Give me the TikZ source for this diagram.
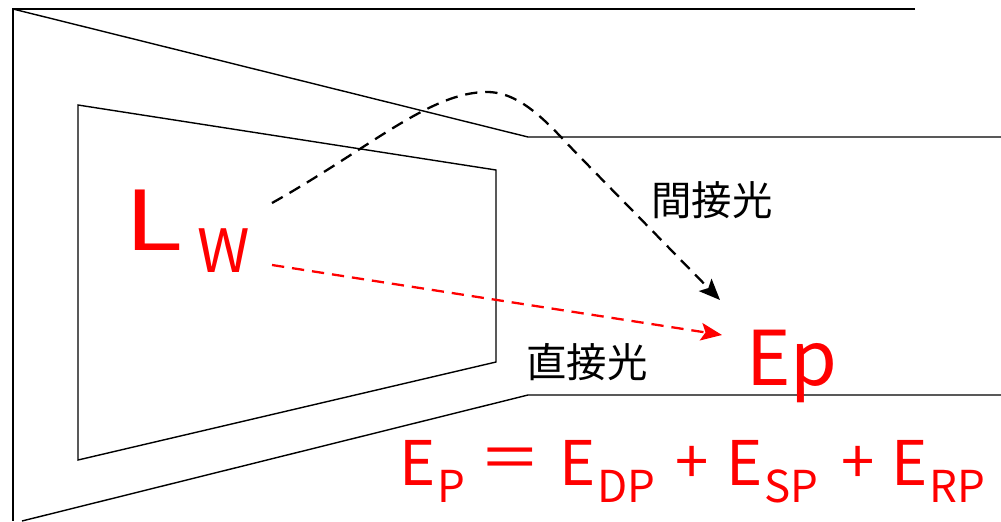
\documentclass[tikz,border=0pt]{standalone}
\usepackage{fontspec}
\setmainfont{Noto Sans CJK JP}
\usetikzlibrary{arrows.meta}

\newcommand{\fsize}[1]{\fontsize{#1}{#1}\selectfont}

\begin{document}
\begin{tikzpicture}[x=0.2mm,y=-0.2mm,
    wall/.style={black,line width=0.8pt},
    ray/.style={line width=1.3pt,dash pattern=on 7pt off 4.5pt,-{Stealth[length=12pt,width=10pt,inset=2.5pt]}},
    redtext/.style={red,inner sep=0pt}]

\useasboundingbox (0,0) rectangle (1001,521);

% draw room
\draw[wall] (915,9) -- (13,9) -- (13,521);
\draw[wall] (13,9) -- (528,137) -- (1001,137);
\draw[wall] (22,521) -- (528,395) -- (1001,395);

% draw window
\draw[wall] (78,105) -- (496,170) -- (496,362) -- (78,460) -- cycle;

% labels
\node[redtext, anchor=base west, font=\fsize{47}] (L) at (124,250) {\scalebox{1.3}[1]{L}};
\node[redtext, anchor=base west, font=\fsize{34}] (W) at (197,272) {W};
\node[redtext, anchor=base west, font=\fsize{43}] (ep) at (746,385) {Ep};
\node[font=\fsize{23}] (indirect) at (712,200) {間接光};
\node[font=\fsize{23}] (direct) at (587,362) {直接光};

% formula
\foreach \x/\sub in {399/P, 559/DP, 726/SP, 891/RP} {
  \node[redtext, anchor=base west, font=\fsize{35}] (E\sub) at (\x,485) {E};
  \node[redtext, anchor=base west, font=\fsize{25}] (sub\sub) at (\x+38,502) {\sub};
}
\node[redtext, font=\fsize{35}] (eq) at (510,464) {＝};
\node[redtext, font=\fsize{34}] (plus1) at (692,465) {+};
\node[redtext, font=\fsize{34}] (plus2) at (858,465) {+};

% draw rays
\coordinate (ind start) at (272,203);
\coordinate (ind end) at (720,300);
\coordinate (dir start) at (272,265);
\coordinate (dir end) at (722,335);
\draw[ray] (ind start) .. controls (370,148) and (430,92) .. (487,92)
   .. controls (525,92) and (555,132) .. (583,160) -- (ind end);
\draw[ray,red] (dir start) -- (dir end);

\end{tikzpicture}
\end{document}
